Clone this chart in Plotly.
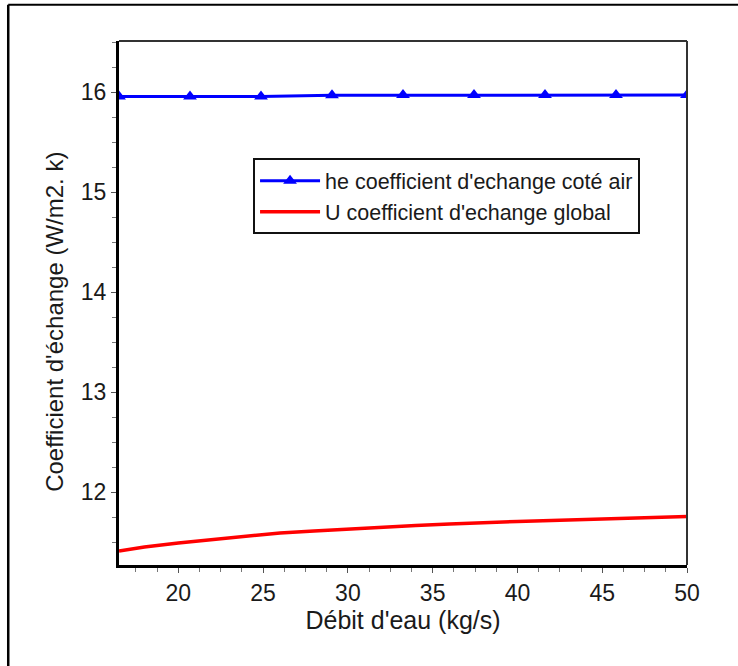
import plotly.graph_objects as go

# Data
he_x = [16.5, 20.6875, 24.875, 29.0625, 33.25, 37.4375, 41.625, 45.8125, 50.0]
he_y = [15.955, 15.955, 15.956, 15.968, 15.969, 15.969, 15.969, 15.969, 15.969]

u_x = [16.5, 18, 20, 22, 24, 26, 28, 30, 32, 34, 36, 38, 40, 42, 44, 46, 48, 50]
u_y = [11.41, 11.45, 11.49, 11.525, 11.56, 11.59, 11.61, 11.63, 11.65, 11.665,
       11.68, 11.695, 11.705, 11.715, 11.725, 11.735, 11.745, 11.755]

x_ticks = [20, 25, 30, 35, 40, 45, 50]
y_ticks = [12, 13, 14, 15, 16]

x_title = "Débit d'eau (kg/s)"
y_title = "Coefficient d'échange (W/m2. k)"

FONT = "Liberation Sans, Arial, sans-serif"

fig = go.Figure()
fig.add_trace(go.Scatter(
    x=he_x, y=he_y, mode="lines+markers",
    name="he coefficient d'echange coté air",
    line=dict(color="#0000ff", width=3),
    marker=dict(symbol="triangle-up", size=12, color="#0000ff"),
))
fig.add_trace(go.Scatter(
    x=u_x, y=u_y, mode="lines",
    name="U coefficient d'echange global",
    line=dict(color="#ff0000", width=3.5),
))

fig.update_layout(
    width=738, height=666,
    margin=dict(l=119, r=51, t=41, b=101),
    paper_bgcolor="white", plot_bgcolor="white",
    font=dict(family=FONT, color="#1a1a1a", size=21),
    showlegend=True,
    legend=dict(
        x=0.236, y=0.776, xanchor="left", yanchor="top",
        bgcolor="white", bordercolor="#111111", borderwidth=2,
        font=dict(family=FONT, size=21.5, color="#1a1a1a"),
        tracegroupgap=0, itemwidth=60,
    ),
    xaxis=dict(
        range=[16.5, 50], tickvals=x_ticks, showgrid=False, zeroline=False,
        showline=True, linecolor="black", linewidth=3,
        ticks="outside", ticklen=5, tickcolor="#555", tickwidth=1,
        minor=dict(dtick=1.25, tick0=0, ticks="outside", ticklen=4, tickcolor="#777"),
        tickfont=dict(size=23),
        title=dict(text=x_title, font=dict(size=25), standoff=6),
    ),
    yaxis=dict(
        range=[11.27, 16.51], tickvals=y_ticks, showgrid=False, zeroline=False,
        showline=True, linecolor="black", linewidth=3,
        ticks="outside", ticklen=5, tickcolor="#555", tickwidth=1,
        minor=dict(dtick=0.25, tick0=0, ticks="outside", ticklen=4, tickcolor="#777"),
        tickfont=dict(size=23),
    ),
    annotations=[
        dict(text=y_title, xref="paper", yref="paper", x=-0.1127, y=0.464,
             xanchor="center", yanchor="middle", textangle=-90, showarrow=False,
             font=dict(size=24, family=FONT, color="#1a1a1a")),
    ],
    shapes=[
        # top and right frame lines
        dict(type="line", xref="paper", yref="paper", x0=0, x1=1, y0=1, y1=1,
             line=dict(color="#333333", width=2)),
        dict(type="line", xref="paper", yref="paper", x0=1, x1=1, y0=0, y1=1,
             line=dict(color="#333333", width=2)),
        # outer border (top and left)
        dict(type="line", xref="paper", yref="paper", x0=-0.195, x1=1.2, y0=1.069, y1=1.069,
             line=dict(color="black", width=2)),
        dict(type="line", xref="paper", yref="paper", x0=-0.195, x1=-0.195, y0=-0.3, y1=1.069,
             line=dict(color="black", width=2.5)),
    ],
)

fig.write_html("out.html")
